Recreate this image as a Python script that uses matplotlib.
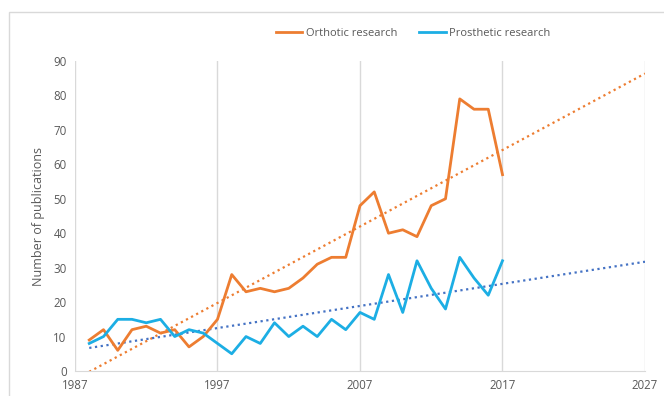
import matplotlib
matplotlib.use("Agg")
import matplotlib.pyplot as plt
import numpy as np
from matplotlib.patches import Rectangle

years = list(range(1988, 2018))
orthotic = [9, 12, 6, 12, 13, 11, 12, 7, 10, 15, 28, 23, 24, 23, 24, 27, 31, 33, 33,
            48, 52, 40, 41, 39, 48, 50, 79, 76, 76, 57]
prosthetic = [8, 10, 15, 15, 14, 15, 10, 12, 11, 8, 5, 10, 8, 14, 10, 13, 10, 15, 12,
              17, 15, 28, 17, 32, 24, 18, 33, 27, 22, 32]
xticks = [1987, 1997, 2007, 2017, 2027]
yticks = list(range(0, 100, 10))
forecast_end = 2027

ORANGE = "#ED7D31"
BLUE = "#1CAEE4"
TREND_BLUE = "#4472C4"
GRID = "#D9D9D9"
TXT = "#595959"

plt.rcParams["font.family"] = ["Open Sans", "DejaVu Sans"]

fig = plt.figure(figsize=(6.64, 3.96), dpi=100)
ax = fig.add_axes([75 / 664, 1 - 371 / 396, 570 / 664, 310 / 396])

# chart border
fig.patches.append(Rectangle((9 / 664, -0.05), 1.2, 1 - 12 / 396 + 0.05,
                             transform=fig.transFigure, fill=False,
                             edgecolor="#D9D9D9", linewidth=1.0))

x = np.array(years)
lo, = ax.plot(years, orthotic, color=ORANGE, lw=2.0, label="Orthotic research", zorder=3)
lp, = ax.plot(years, prosthetic, color=BLUE, lw=2.0, label="Prosthetic research", zorder=3)

# linear trend lines with forward forecast
xt = np.array([years[0], forecast_end])
for series, col in [(orthotic, ORANGE), (prosthetic, TREND_BLUE)]:
    k, b = np.polyfit(x, series, 1)
    ax.plot(xt, k * xt + b, color=col, lw=1.6, ls=(0, (1, 1.6)), zorder=2)

ax.set_xlim(1987, 2027)
ax.set_ylim(0, 90)
ax.set_xticks(xticks)
ax.set_yticks(yticks)
ax.tick_params(length=0, colors=TXT, labelsize=8.3, pad=6)
ax.xaxis.grid(True, color=GRID, lw=1.0)
ax.set_axisbelow(True)
for s in ["top", "right", "left"]:
    ax.spines[s].set_visible(False)
ax.spines["bottom"].set_color(GRID)
ax.set_ylabel("Number of publications", color=TXT, fontsize=9, labelpad=6)

fig.legend(handles=[lo, lp], loc="center", bbox_to_anchor=(413 / 664, 1 - 33 / 396),
           ncol=2, frameon=False, fontsize=8, labelcolor=TXT, handlelength=2.4,
           columnspacing=2.0, handletextpad=0.3)

fig.savefig("out.png", dpi=100)
